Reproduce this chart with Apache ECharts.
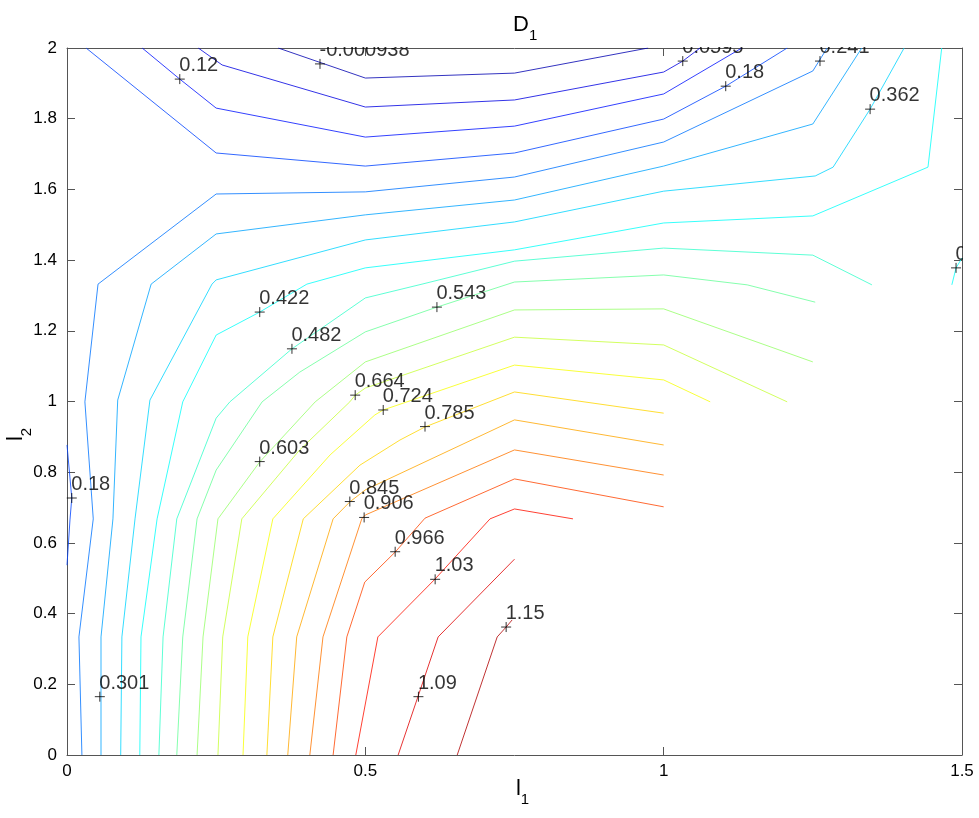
<!DOCTYPE html>
<html>
<head>
<meta charset="utf-8">
<script src="https://cdn.jsdelivr.net/npm/echarts/dist/echarts.min.js"></script>
<style>
  html, body { margin: 0; padding: 0; background: #fff; }
  #main { width: 979px; height: 818px; }
</style>
</head>
<body>
<div id="main"></div>
<script>
// contour levels as printed by clabel
var levels = [-0.000938, 0.0595, 0.12, 0.18, 0.241, 0.301, 0.362, 0.422, 0.482, 0.543,
              0.603, 0.664, 0.724, 0.785, 0.845, 0.906, 0.966, 1.03, 1.09, 1.15];

// contour lines, [l1, l2] points
var c00 = [[0.354,2],[0.5,1.915],[0.75,1.929],[0.974,2]];
var c01 = [[0.22,2],[0.26,1.952],[0.5,1.833],[0.75,1.853],[1.0,1.932],[1.032,1.963],[1.061,2]];
var c02 = [[0.126,2],[0.189,1.912],[0.25,1.83],[0.5,1.748],[0.75,1.779],[1.0,1.870],[1.131,2]];
var c03a = [[0.032,2],[0.25,1.703],[0.5,1.666],[0.75,1.703],[1.0,1.799],[1.104,1.892],[1.207,2]];
var c03b = [[0,0.877],[0.008,0.727],[0.005,0.665],[0,0.537]];
var c04 = [[0.025,0],[0.020,0.334],[0.044,0.668],[0.030,0.999],[0.052,1.332],[0.25,1.587],[0.5,1.593],[0.75,1.635],[1.0,1.734],[1.25,1.935],[1.274,2]];
var c05 = [[0.057,0],[0.057,0.334],[0.077,0.668],[0.085,1.004],[0.141,1.332],[0.25,1.474],[0.5,1.528],[0.75,1.570],[1.0,1.666],[1.25,1.785],[1.332,2]];
var c06 = [[0.090,0],[0.092,0.334],[0.114,0.668],[0.139,1.004],[0.243,1.332],[0.25,1.344],[0.5,1.457],[0.75,1.508],[1.0,1.595],[1.254,1.638],[1.284,1.663],[1.346,1.827],[1.403,2]];
var c07a = [[0.122,0],[0.124,0.334],[0.151,0.668],[0.194,0.999],[0.25,1.188],[0.323,1.253],[0.402,1.332],[0.5,1.378],[0.75,1.429],[1.0,1.505],[1.25,1.525],[1.443,1.663],[1.466,2]];
var c07b = [[1.5,1.406],[1.49,1.378],[1.483,1.330]];
var c08 = [[0.154,0],[0.161,0.334],[0.184,0.668],[0.25,0.953],[0.273,0.999],[0.377,1.149],[0.5,1.293],[0.595,1.332],[0.75,1.397],[1.0,1.434],[1.25,1.414],[1.349,1.330]];
var c09 = [[0.184,0],[0.194,0.334],[0.218,0.668],[0.25,0.806],[0.327,0.999],[0.390,1.083],[0.5,1.197],[0.62,1.267],[0.75,1.338],[1.0,1.358],[1.14,1.330],[1.254,1.281]];
var c10 = [[0.218,0],[0.228,0.334],[0.253,0.668],[0.323,0.829],[0.416,0.999],[0.5,1.112],[0.75,1.259],[1.0,1.262],[1.25,1.112]];
var c11 = [[0.253,0],[0.261,0.334],[0.293,0.668],[0.39,0.863],[0.474,0.999],[0.483,1.018],[0.5,1.038],[0.75,1.182],[1.0,1.160],[1.207,0.999]];
var c12 = [[0.295,0],[0.303,0.334],[0.345,0.668],[0.441,0.849],[0.516,0.962],[0.530,0.976],[0.75,1.103],[1.0,1.061],[1.078,0.999]];
var c13 = [[0.335,0],[0.345,0.334],[0.396,0.668],[0.491,0.820],[0.558,0.891],[0.600,0.928],[0.75,1.027],[1.0,0.967]];
var c14 = [[0.370,0],[0.385,0.334],[0.446,0.668],[0.474,0.716],[0.5,0.750],[0.75,0.948],[1.0,0.877]];
var c15 = [[0.407,0],[0.429,0.334],[0.494,0.668],[0.5,0.679],[0.75,0.863],[1.0,0.792]];
var c16 = [[0.446,0],[0.469,0.334],[0.499,0.489],[0.550,0.574],[0.600,0.670],[0.75,0.781],[1.0,0.702]];
var c17 = [[0.484,0],[0.521,0.334],[0.617,0.498],[0.709,0.668],[0.75,0.696],[0.848,0.668]];
var c18 = [[0.555,0],[0.588,0.164],[0.622,0.334],[0.75,0.554]];
var c19 = [[0.654,0],[0.721,0.334],[0.736,0.362],[0.746,0.382]];

// which level each piece belongs to
var pieces = [
  [0, c00], [1, c01], [2, c02], [3, c03a], [3, c03b], [4, c04], [5, c05], [6, c06],
  [7, c07a], [7, c07b], [8, c08], [9, c09], [10, c10], [11, c11], [12, c12], [13, c13],
  [14, c14], [15, c15], [16, c16], [17, c17], [18, c18], [19, c19]
];

// clabel '+' marks: [l1, l2, text]
var labelMarks = [
  [0.424, 1.955, '-0.000938'], [1.032, 1.963, '0.0595'], [0.189, 1.912, '0.12'],
  [1.104, 1.892, '0.18'], [0.008, 0.727, '0.18'], [1.262, 1.963, '0.241'],
  [0.055, 0.165, '0.301'], [1.346, 1.827, '0.362'], [0.323, 1.253, '0.422'],
  [1.49, 1.378, '0.422'], [0.377, 1.149, '0.482'], [0.620, 1.267, '0.543'],
  [0.323, 0.830, '0.603'], [0.483, 1.018, '0.664'], [0.530, 0.976, '0.724'],
  [0.600, 0.929, '0.785'], [0.474, 0.717, '0.845'], [0.498, 0.672, '0.906'],
  [0.550, 0.575, '0.966'], [0.617, 0.497, '1.03'], [0.589, 0.165, '1.09'],
  [0.736, 0.362, '1.15']
];

// jet colormap over the contour range
var step = (levels[levels.length - 1] - levels[0]) / (levels.length - 1);
var zmin = levels[0] - step, zmax = levels[levels.length - 1] + step;
function jet(v) {
  var t = (v - zmin) / (zmax - zmin);
  function c(a) { return Math.round(255 * Math.max(0, Math.min(1, a))); }
  return 'rgb(' + c(1.5 - Math.abs(4 * t - 3)) + ',' + c(1.5 - Math.abs(4 * t - 2)) + ',' + c(1.5 - Math.abs(4 * t - 1)) + ')';
}

var chart = echarts.init(document.getElementById('main'));

var series = pieces.map(function (p) {
  return {
    type: 'line',
    data: p[1],
    showSymbol: false,
    silent: true,
    animation: false,
    clip: true,
    lineStyle: { color: jet(levels[p[0]]), width: 1, opacity: 0.8 }
  };
});

series.push({
  type: 'scatter',
  data: labelMarks,
  symbol: 'path://M0,5L10,5M5,0L5,10',
  symbolSize: 10,
  silent: true,
  animation: false,
  itemStyle: { color: 'rgba(0,0,0,0)', borderColor: '#000', borderWidth: 1 },
  label: {
    show: true,
    position: [5, 2],
    align: 'left',
    verticalAlign: 'bottom',
    color: '#000',
    fontFamily: 'Liberation Sans',
    fontSize: 20,
    formatter: function (p) { return p.data[2]; }
  },
  z: 5
});

var axisColor = '#555';
var tickFont = { color: '#000', fontFamily: 'Liberation Sans', fontSize: 17 };
var subRich = {
  a: { fontFamily: 'Liberation Sans', fontSize: 22, fontWeight: 'normal', color: '#000', verticalAlign: 'top', lineHeight: 24 },
  b: { fontFamily: 'Liberation Sans', fontSize: 15, fontWeight: 'normal', color: '#000', verticalAlign: 'top', lineHeight: 15, padding: [14, 0, 0, 0] }
};

var option = {
  backgroundColor: '#fff',
  animation: false,
  title: {
    text: '{a|D}{b|1}',
    left: 508,
    top: 9,
    z: 200,
    textStyle: { fontWeight: 'normal', rich: subRich }
  },
  grid: { left: 67, right: 17, top: 48, bottom: 63, outerBoundsMode: 'none', containLabel: false },
  xAxis: [{
    type: 'value', min: 0, max: 1.5, interval: 0.5,
    position: 'bottom',
    axisLine: { show: true, onZero: false, lineStyle: { color: axisColor } },
    axisTick: { inside: true, length: 8, lineStyle: { color: axisColor } },
    axisLabel: Object.assign({ margin: 8 }, tickFont),
    splitLine: { show: false },
    name: '{a|l}{b|1}',
    nameLocation: 'middle',
    nameGap: 23,
    nameMoveOverlap: false,
    nameTextStyle: { rich: subRich, padding: [0, 0, 0, 16] }
  }, {
    type: 'value', min: 0, max: 1.5, interval: 0.5,
    position: 'top',
    axisLine: { show: true, onZero: false, lineStyle: { color: axisColor } },
    axisTick: { inside: true, length: 8, lineStyle: { color: axisColor } },
    axisLabel: { show: false },
    splitLine: { show: false }
  }],
  yAxis: [{
    type: 'value', min: 0, max: 2, interval: 0.2,
    position: 'left',
    axisLine: { show: true, onZero: false, lineStyle: { color: axisColor } },
    axisTick: { inside: true, length: 8, lineStyle: { color: axisColor } },
    axisLabel: Object.assign({ margin: 10 }, tickFont),
    splitLine: { show: false },
    name: '{a|l}{b|2}',
    nameLocation: 'middle',
    nameRotate: 90,
    nameGap: 38,
    nameMoveOverlap: false,
    nameTextStyle: { rich: subRich, padding: [0, 66, 0, 0] }
  }, {
    type: 'value', min: 0, max: 2, interval: 0.2,
    position: 'right',
    axisLine: { show: true, onZero: false, lineStyle: { color: axisColor } },
    axisTick: { inside: true, length: 8, lineStyle: { color: axisColor } },
    axisLabel: { show: false },
    splitLine: { show: false }
  }],
  // masks so that labels are cut at the axes box like in matlab
  graphic: [
    { type: 'rect', shape: { x: 68, y: 0, width: 911, height: 47 }, style: { fill: '#fff' }, z: 100, silent: true },
    { type: 'rect', shape: { x: 963, y: 40, width: 16, height: 714 }, style: { fill: '#fff' }, z: 100, silent: true }
  ],
  series: series
};

chart.setOption(option);
</script>
</body>
</html>
